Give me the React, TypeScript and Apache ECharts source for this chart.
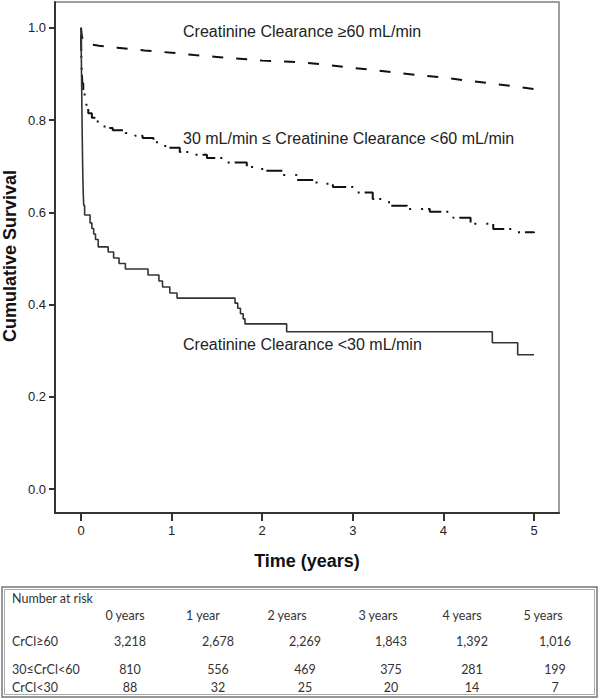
import React, { useEffect, useRef } from "react";
import * as echarts from "echarts";

// ---- axis ticks ----
const xTicks = [0, 1, 2, 3, 4, 5];
const yTicks = [0, 0.2, 0.4, 0.6, 0.8, 1.0];

// ---- Kaplan-Meier curves (time in years, cumulative survival) ----
const highTime = [0, 0.005, 0.01, 0.02, 0.04, 0.08, 0.2, 0.4, 0.7, 1.0, 1.25, 1.5, 1.75, 2.0, 2.25, 2.5, 2.75, 3.0, 3.25, 3.5, 3.75, 4.0, 4.25, 4.5, 4.75, 5.0];
const highSurv = [1.0, 0.99, 0.982, 0.974, 0.968, 0.965, 0.961, 0.957, 0.951, 0.946, 0.941, 0.937, 0.933, 0.929, 0.927, 0.924, 0.919, 0.913, 0.908, 0.902, 0.897, 0.892, 0.886, 0.88, 0.874, 0.867];

const midTime = [0, 0.004, 0.008, 0.015, 0.025, 0.04, 0.06, 0.08, 0.12, 0.16, 0.21, 0.26, 0.35, 0.49, 0.6, 0.68, 0.8, 0.93, 1.09, 1.25, 1.39, 1.6, 1.83, 2.0, 2.23, 2.38, 2.6, 2.78, 3.0, 3.22, 3.4, 3.6, 3.85, 4.11, 4.3, 4.55, 4.81, 5.0];
const midSurv = [1.0, 0.93, 0.905, 0.88, 0.862, 0.848, 0.83, 0.815, 0.805, 0.797, 0.79, 0.783, 0.778, 0.772, 0.766, 0.761, 0.752, 0.74, 0.731, 0.725, 0.718, 0.708, 0.698, 0.69, 0.681, 0.67, 0.662, 0.655, 0.643, 0.629, 0.614, 0.607, 0.601, 0.588, 0.575, 0.564, 0.557, 0.555];

const lowTime = [0, 0.004, 0.008, 0.012, 0.016, 0.02, 0.025, 0.03, 0.04, 0.1, 0.12, 0.14, 0.16, 0.19, 0.3, 0.36, 0.42, 0.49, 0.74, 0.86, 0.9, 0.98, 1.06, 1.7, 1.73, 1.76, 1.79, 1.81, 2.27, 4.54, 4.82, 5.0];
const lowSurv = [1.0, 0.93, 0.86, 0.79, 0.73, 0.68, 0.64, 0.615, 0.594, 0.577, 0.565, 0.553, 0.541, 0.525, 0.514, 0.501, 0.489, 0.477, 0.464, 0.451, 0.438, 0.425, 0.414, 0.403, 0.392, 0.38, 0.369, 0.358, 0.341, 0.317, 0.291, 0.291];

const curveLabels = [
  "Creatinine Clearance ≥60 mL/min",
  "30 mL/min ≤ Creatinine Clearance <60 mL/min",
  "Creatinine Clearance <30 mL/min",
];

// ---- number at risk table ----
const riskTitle = "Number at risk";
const riskHeaders = ["0 years", "1 year", "2 years", "3 years", "4 years", "5 years"];
const riskGroups = ["CrCl≥60", "30≤CrCl<60", "CrCl<30"];
const riskHigh = ["3,218", "2,678", "2,269", "1,843", "1,392", "1,016"];
const riskMid = ["810", "556", "469", "375", "281", "199"];
const riskLow = ["88", "32", "25", "20", "14", "7"];

const zip = (t: number[], s: number[]) => t.map((v, i) => [v, s[i]]);

export default function App() {
  const ref = useRef<HTMLDivElement>(null);
  useEffect(() => {
    if (!ref.current) return;
    const chart = echarts.init(ref.current, undefined, { renderer: "svg" });

    const chartFont = "'Liberation Sans', Arial, sans-serif";
    const tableFont = "Lato, 'Noto Sans', sans-serif";
    const textColor = "#222";

    const headerX = [125, 203, 287, 378, 462, 543];
    const valueX = [130, 218, 305, 391, 472, 555];
    const rowY = [641, 669, 687];
    const riskRows = [riskHigh, riskMid, riskLow];

    const graphics: any[] = [];
    const labelY = [31, 138, 344];
    curveLabels.forEach((t, i) => {
      graphics.push({
        type: "text",
        x: 183,
        y: labelY[i],
        style: { text: t, fill: textColor, font: `16px ${chartFont}`, align: "left", verticalAlign: "middle", textAlign: "left", textVerticalAlign: "middle" },
      });
    });
    graphics.push({
      type: "text",
      x: 10,
      y: 256,
      rotation: Math.PI / 2,
      style: { text: "Cumulative Survival", fill: "#111", font: `bold 18px ${chartFont}`, align: "center", verticalAlign: "middle", textAlign: "center", textVerticalAlign: "middle" },
    });
    graphics.push({
      type: "text",
      x: 307,
      y: 561,
      style: { text: "Time (years)", fill: "#111", font: `bold 18px ${chartFont}`, align: "center", verticalAlign: "middle", textAlign: "center", textVerticalAlign: "middle" },
    });
    graphics.push({ type: "rect", shape: { x: 2, y: 587, width: 595, height: 110 }, style: { fill: "none", stroke: "#777", lineWidth: 1.5 } });
    graphics.push({ type: "rect", shape: { x: 4.5, y: 589.5, width: 590, height: 105 }, style: { fill: "none", stroke: "#aaa", lineWidth: 1 } });
    const tf = `12.5px ${tableFont}`;
    graphics.push({
      type: "text", x: 12, y: 598,
      style: { text: riskTitle, fill: "#333", font: tf, align: "left", verticalAlign: "middle", textAlign: "left", textVerticalAlign: "middle" },
    });
    riskHeaders.forEach((h, i) => {
      graphics.push({
        type: "text", x: headerX[i], y: 615,
        style: { text: h, fill: "#333", font: tf, align: "center", verticalAlign: "middle", textAlign: "center", textVerticalAlign: "middle" },
      });
    });
    riskGroups.forEach((g, r) => {
      graphics.push({
        type: "text", x: 12, y: rowY[r],
        style: { text: g, fill: "#333", font: tf, align: "left", verticalAlign: "middle", textAlign: "left", textVerticalAlign: "middle" },
      });
      riskRows[r].forEach((v, i) => {
        graphics.push({
          type: "text", x: valueX[i], y: rowY[r],
          style: { text: v, fill: "#333", font: tf, align: "center", verticalAlign: "middle", textAlign: "center", textVerticalAlign: "middle" },
        });
      });
    });

    chart.setOption({
      animation: false,
      backgroundColor: "#fff",
      grid: { left: 55, right: 41, top: 2, bottom: 186, containLabel: false, show: true, borderColor: "#808080", borderWidth: 1.5, backgroundColor: "transparent" },
      xAxis: {
        type: "value",
        min: -0.287,
        max: 5.276,
        axisLine: { show: true, onZero: false, lineStyle: { color: "#333", width: 2 } },
        axisTick: { show: true, inside: false, length: 8, customValues: xTicks, lineStyle: { color: "#333", width: 2 } },
        axisLabel: { show: true, margin: 11, customValues: xTicks, color: textColor, fontSize: 13, fontFamily: chartFont, formatter: (v: number) => String(v) },
        splitLine: { show: false },
      },
      yAxis: {
        type: "value",
        min: -0.052,
        max: 1.056,
        axisLine: { show: true, onZero: false, lineStyle: { color: "#333", width: 2 } },
        axisTick: { show: true, inside: false, length: 6, customValues: yTicks, lineStyle: { color: "#333", width: 2 } },
        axisLabel: { show: true, margin: 9, customValues: yTicks, color: textColor, fontSize: 13, fontFamily: chartFont, formatter: (v: number) => v.toFixed(1) },
        splitLine: { show: false },
      },
      series: [
        {
          type: "line",
          data: zip(highTime, highSurv),
          showSymbol: false,
          symbol: "none",
          lineStyle: { color: "#111", width: 2, type: [11, 13] },
        },
        {
          type: "line",
          step: "end",
          data: zip(midTime, midSurv),
          showSymbol: false,
          symbol: "none",
          lineStyle: { color: "#111", width: 2, type: [2, 5, 16, 5, 2, 10] },
        },
        {
          type: "line",
          step: "end",
          data: zip(lowTime, lowSurv),
          showSymbol: false,
          symbol: "none",
          lineStyle: { color: "#333", width: 1.6 },
        },
      ],
      graphic: graphics,
    });
    return () => chart.dispose();
  }, []);
  return <div ref={ref} style={{ position: "fixed", left: 0, top: 0, width: 600, height: 699 }} />;
}
